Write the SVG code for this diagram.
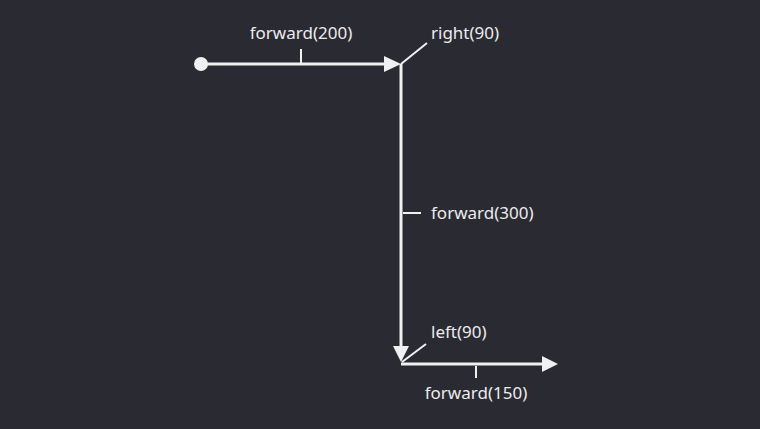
<svg xmlns="http://www.w3.org/2000/svg" width="760" height="429" viewBox="0 0 760 429">
<style>
.ln{stroke:#f0f0f0;stroke-width:3;fill:none}
.tk{stroke:#f0f0f0;stroke-width:2;fill:none}
.lb{fill:#ececec;font-family:"Noto Sans","Open Sans","DejaVu Sans",sans-serif;font-size:17px}
.ah{fill:#f0f0f0}
</style>
<rect width="760" height="429" fill="#2a2a33"/>
<g id="connectors">
<line class="ln" x1="201" y1="64" x2="386" y2="64"/>
<polygon class="ah" points="401,64 384,56 384,72"/>
<line class="ln" x1="401" y1="64" x2="401" y2="348"/>
<polygon class="ah" points="401,362 393,346 409,346"/>
<line class="ln" x1="401" y1="364" x2="544" y2="364"/>
<polygon class="ah" points="558,364 542,356 542,372"/>
</g>
<g id="start"><circle cx="201" cy="64" r="7" fill="#f0f0f0"/></g>
<g id="forward200">
<line class="tk" x1="301" y1="49" x2="301" y2="63"/>
<text class="lb" x="301" y="39" text-anchor="middle">forward(200)</text>
</g>
<g id="right90">
<line class="tk" x1="401" y1="64" x2="427" y2="43"/>
<text class="lb" x="431" y="39">right(90)</text>
</g>
<g id="forward300">
<line class="tk" x1="403" y1="213" x2="421" y2="213"/>
<text class="lb" x="431" y="219">forward(300)</text>
</g>
<g id="left90">
<line class="tk" x1="402" y1="362" x2="426" y2="344"/>
<text class="lb" x="431" y="338">left(90)</text>
</g>
<g id="forward150">
<line class="tk" x1="476" y1="366" x2="476" y2="378"/>
<text class="lb" x="476" y="399" text-anchor="middle">forward(150)</text>
</g>
</svg>
